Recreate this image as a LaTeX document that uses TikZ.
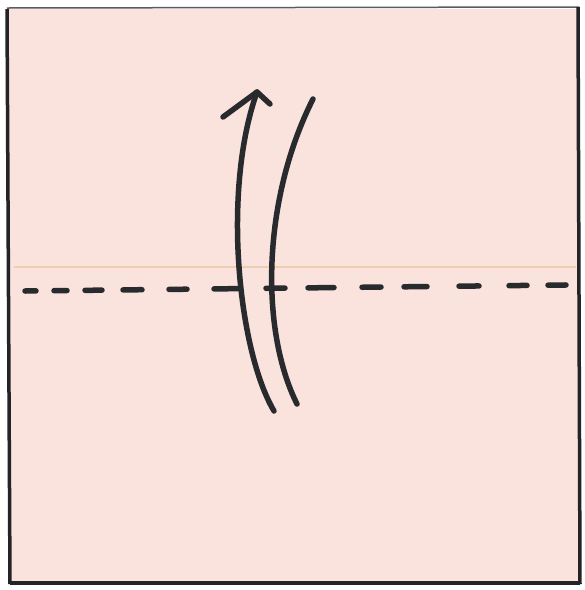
\documentclass[tikz,border=0pt]{standalone}
\definecolor{paper}{RGB}{250,226,221}
\definecolor{crease}{RGB}{238,205,180}
\definecolor{inkc}{RGB}{40,42,46}
\definecolor{edgec}{RGB}{35,35,40}
\definecolor{topc}{RGB}{90,90,95}
\begin{document}
\begin{tikzpicture}[x=1pt,y=-1pt,
  paperfill/.style={fill=paper},
  ink/.style={draw=inkc,line width=5.5pt,line cap=round,line join=round},
  dashseg/.style={draw=inkc,line width=5.5pt,line cap=round},
  edge/.style={draw=edgec,line width=3.5pt}]
\useasboundingbox[fill=white] (0,0) rectangle (585,590);
% paper
\path[paperfill] (8,9) rectangle (579,583);
% crease
\draw[crease,line width=2pt] (14,267) -- (576,267);
% edges
\draw[topc,line width=1.5pt] (7,8) -- (579,7);
\draw[edge] (7,9) -- (10,584);
\draw[edge] (578,7) -- (580,584);
\draw[edge] (10,583) -- (580,583);
% dashed fold line, drawn dash by dash
\foreach \a/\b in {25/36,54/67,85/102,123/142,169/187,214/238,266/285,308/334,362/381,404/427,459/479,509/527,548/566}{
  \draw[dashseg] (\a,{291-6*(\a-25)/540}) -- (\b,{291-6*(\b-25)/540});
}
% arrow
\coordinate (a0) at (274,411);
\coordinate (a1) at (257,92);
\coordinate (h1) at (223,117);
\coordinate (h2) at (270,104);
\draw[ink] (a0) .. controls (238,350) and (222,190) .. (a1);
\draw[ink] (h1) -- (a1) -- (h2);
\coordinate (b0) at (297,404);
\coordinate (b1) at (313,99);
\draw[ink] (b0) .. controls (260,330) and (262,200) .. (b1);
\end{tikzpicture}
\end{document}
